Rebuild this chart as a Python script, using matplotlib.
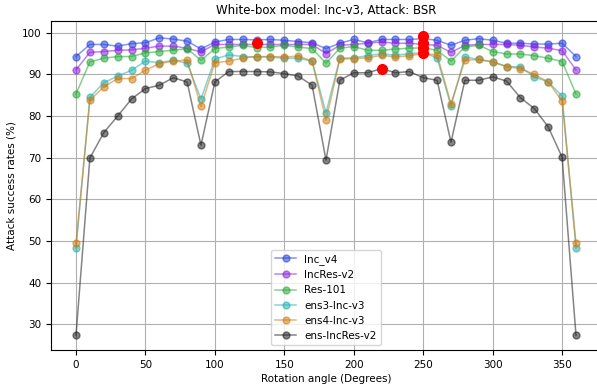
import matplotlib
matplotlib.use("Agg")
import matplotlib.pyplot as plt
import numpy as np

angles = list(range(0, 361, 10))

inc_v4 = [94.3, 97.2, 97.2, 96.8, 97.4, 97.6, 98.8, 98.5, 98.0, 96.1,
          97.8, 98.4, 98.4, 98.3, 98.4, 98.2, 97.9, 97.6, 96.2, 97.5,
          98.4, 97.6, 98.4, 98.4, 98.4, 98.6, 98.2, 97.0, 98.2, 98.6,
          98.2, 97.5, 97.5, 97.3, 97.3, 97.5, 94.3]
incres_v2 = [91.1, 95.3, 95.5, 95.8, 95.9, 96.3, 96.8, 96.8, 96.3, 95.4,
             97.2, 97.2, 97.2, 97.2, 97.2, 97.2, 97.2, 97.2, 95.0, 97.0,
             97.2, 97.5, 97.8, 97.5, 97.5, 97.2, 97.0, 95.3, 97.0, 97.2,
             97.2, 97.2, 97.0, 96.6, 96.3, 95.7, 91.1]
res_101 = [85.3, 93.0, 93.9, 94.3, 94.3, 95.2, 95.5, 95.8, 96.2, 93.4,
           96.2, 96.6, 97.0, 96.4, 96.6, 97.0, 96.6, 96.2, 92.7, 96.3,
           96.7, 95.8, 95.8, 96.1, 96.3, 96.4, 95.8, 93.2, 96.6, 97.0,
           95.5, 94.9, 94.9, 94.5, 93.9, 93.1, 85.3]
ens3_inc_v3 = [48.3, 84.5, 88.0, 89.6, 91.0, 93.2, 92.8, 93.4, 92.7, 84.1,
               93.7, 94.7, 94.3, 94.2, 94.2, 93.9, 93.9, 93.2, 80.8, 93.9,
               94.0, 94.5, 95.0, 94.6, 95.0, 95.2, 94.0, 82.4, 94.2, 93.6,
               93.0, 91.9, 91.8, 89.4, 88.2, 84.8, 48.3]
ens4_inc_v3 = [49.4, 83.8, 87.0, 89.0, 89.0, 91.0, 92.6, 93.2, 93.5, 82.3,
               92.8, 93.2, 93.9, 94.3, 94.3, 94.2, 94.4, 93.2, 79.0, 93.7,
               93.8, 94.0, 94.6, 94.2, 94.5, 95.0, 94.7, 83.0, 93.4, 93.6,
               93.0, 91.9, 91.4, 90.0, 88.2, 83.6, 49.4]
ens_incres_v2 = [27.3, 69.9, 76.0, 80.0, 84.1, 86.6, 87.4, 89.2, 88.2, 73.0,
                 88.2, 90.7, 90.7, 90.7, 90.6, 90.2, 89.6, 87.4, 69.4, 88.6,
                 90.4, 90.4, 91.4, 90.4, 90.7, 89.2, 88.6, 73.7, 88.6, 88.6,
                 89.4, 88.4, 84.4, 81.8, 77.4, 70.1, 27.3]

series_names = ["Inc_v4", "IncRes-v2", "Res-101", "ens3-Inc-v3", "ens4-Inc-v3", "ens-IncRes-v2"]
series_values = [inc_v4, incres_v2, res_101, ens3_inc_v3, ens4_inc_v3, ens_incres_v2]
colors = ["#1f3fe0", "#8a1ee0", "#22aa33", "#22b0b0", "#d07a10", "#202020"]

red_x = [130, 220, 250, 250, 250, 250]
red_y = [97.6, 91.4, 99.2, 97.6, 96.3, 95.2]

fig = plt.figure(figsize=(5.97, 3.85), dpi=100)
ax = fig.add_axes([0.0854, 0.0900, 0.9213, 0.855])

for name, vals, c in zip(series_names, series_values, colors):
    ax.plot(angles, vals, marker="o", color=c, alpha=0.55, markersize=5,
            linewidth=1.1, label=name)

ax.plot(red_x, red_y, "o", color="red", markersize=7, linestyle="none")

ax.grid(True, color="#b0b0b0", linewidth=0.8)
ax.set_xlim(-18, 378)
ax.set_xticks([0, 50, 100, 150, 200, 250, 300, 350])
ax.tick_params(labelsize=7.5)
ax.set_xlabel("Rotation angle (Degrees)", fontsize=7.5, labelpad=3)
ax.set_ylabel("Attack success rates (%)", fontsize=7.5)
ax.set_title("White-box model: Inc-v3, Attack: BSR", fontsize=8.5, pad=5)
ax.legend(loc="lower center", fontsize=7.5)

fig.savefig("out.png", dpi=100)
